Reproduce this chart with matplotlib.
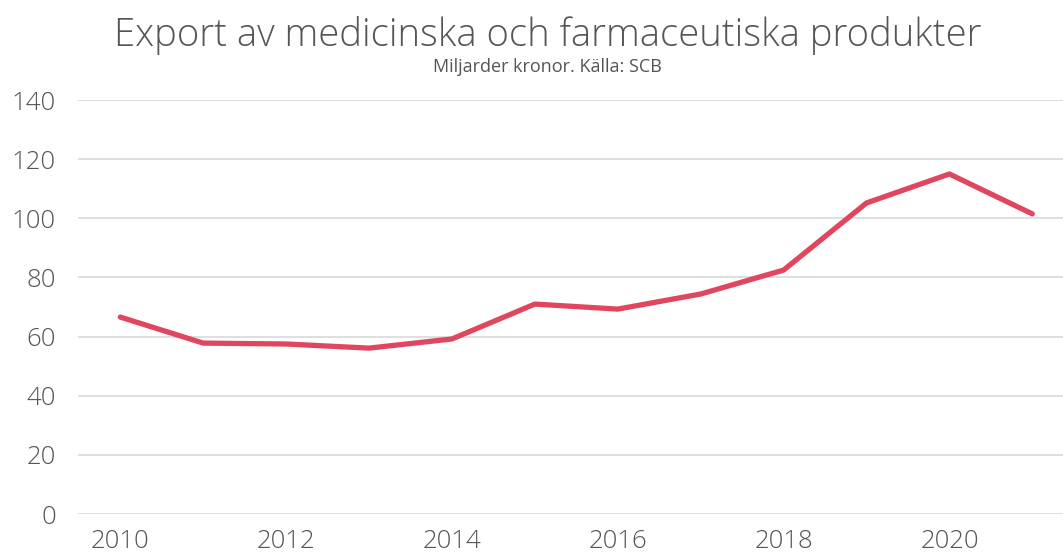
import matplotlib
matplotlib.use('Agg')
from matplotlib import pyplot as plt

years = [2010, 2011, 2012, 2013, 2014, 2015, 2016, 2017, 2018, 2019, 2020, 2021]
export = [66.6, 57.8, 57.5, 56.1, 59.2, 71.0, 69.3, 74.4, 82.5, 105.2, 115.0, 101.5]
yticks = [0, 20, 40, 60, 80, 100, 120, 140]
xticks = [2010, 2012, 2014, 2016, 2018, 2020]

plt.rcParams['font.family'] = ['Open Sans', 'DejaVu Sans']

fig = plt.figure(figsize=(10.63, 5.59), dpi=100)
ax = fig.add_axes([0.0734, 0.0805, 0.9266, 0.7405])

ax.plot(years, export, color='#e0475f', linewidth=3.8, solid_capstyle='round', solid_joinstyle='round', zorder=3)

ax.set_ylim(0, 140)
ax.set_xlim(2009.49, 2021.37)
ax.set_yticks(yticks)
ax.set_xticks(xticks)
ax.grid(axis='y', color='#dcdcdc', linewidth=1.3)
ax.grid(axis='x', visible=False)
for s in ax.spines.values():
    s.set_visible(False)
ax.tick_params(axis='both', length=0, labelsize=18.5, labelcolor='#555555')
ax.tick_params(axis='y', pad=16)
ax.tick_params(axis='x', pad=11)
for lab in ax.get_xticklabels() + ax.get_yticklabels():
    lab.set_fontweight('light')

fig.text(0.515, 0.937, 'Export av medicinska och farmaceutiska produkter', ha='center', va='center',
         fontsize=27.5, color='#555555', fontweight='light')
fig.text(0.515, 0.88, 'Miljarder kronor. Källa: SCB', ha='center', va='center',
         fontsize=13, color='#555555')

fig.savefig('out.png', dpi=100)
